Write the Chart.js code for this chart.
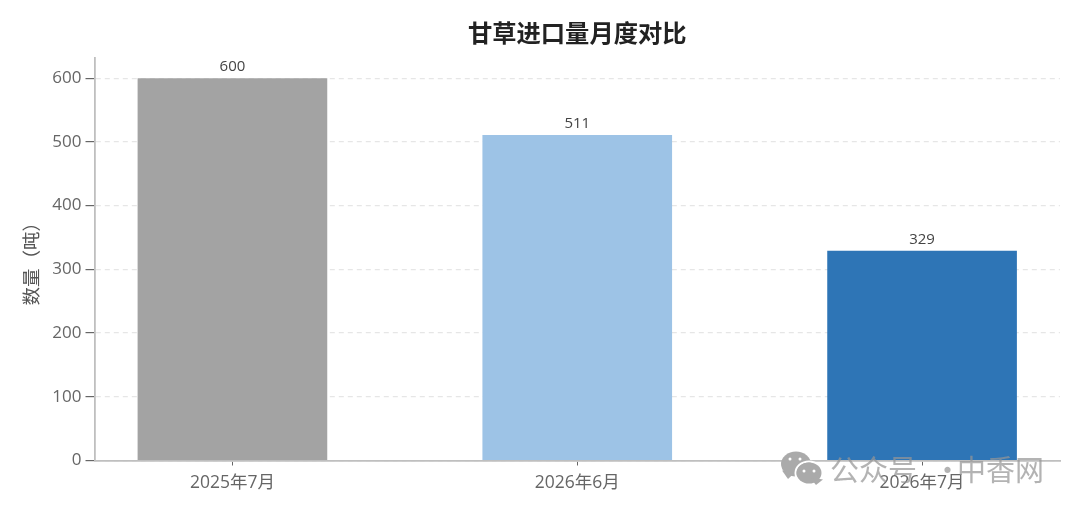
<!DOCTYPE html>
<html lang="zh">
<head>
<meta charset="utf-8">
<title>甘草进口量月度对比</title>
<script src="https://cdn.jsdelivr.net/npm/chart.js@4/dist/chart.umd.min.js"></script>
<style>
  html, body { margin: 0; background: #fff; }
  canvas { display: block; }
</style>
</head>
<body>
<canvas id="chart" width="1080" height="513"></canvas>
<script>
const months = ["2025年7月", "2026年6月", "2026年7月"];
const tons = [600, 511, 329];
const barColors = ["#a3a3a3", "#9dc3e6", "#2e75b6"];
const yTicks = [0, 100, 200, 300, 400, 500, 600];

const FONT = '"Open Sans", "Noto Sans CJK SC", sans-serif';

// value above each bar
const barLabels = {
  id: "barLabels",
  afterDatasetsDraw(chart) {
    const ctx = chart.ctx;
    ctx.save();
    ctx.font = "15px " + FONT;
    ctx.fillStyle = "#444";
    ctx.textAlign = "center";
    ctx.textBaseline = "bottom";
    chart.getDatasetMeta(0).data.forEach((bar, i) => {
      ctx.fillText(tons[i], bar.x, bar.y - 3.5);
    });
    ctx.restore();
  }
};

function bubble(ctx, x, y, rx, ry, tailX, tailY) {
  ctx.beginPath();
  ctx.ellipse(x, y, rx, ry, 0, 0, Math.PI * 2);
  ctx.fill();
  ctx.beginPath();
  ctx.moveTo(tailX - 6, y + ry - 6);
  ctx.lineTo(tailX, tailY);
  ctx.lineTo(tailX + 7, y + ry - 4);
  ctx.closePath();
  ctx.fill();
}

// wechat watermark sitting on the bottom right corner
const watermark = {
  id: "watermark",
  afterDraw(chart) {
    const ctx = chart.ctx;
    ctx.save();
    ctx.fillStyle = "rgb(170,170,170)";
    bubble(ctx, 796, 464, 15, 12.5, 788, 479);
    ctx.strokeStyle = "#fff";
    ctx.lineWidth = 2;
    ctx.beginPath();
    ctx.ellipse(809, 473, 13.5, 11.5, 0, 0, Math.PI * 2);
    ctx.stroke();
    ctx.fillStyle = "rgb(170,170,170)";
    bubble(ctx, 809, 473, 12.5, 10.5, 816, 485);
    ctx.fillStyle = "#fff";
    [[790, 459], [800, 459], [804, 471], [814, 471]].forEach(p => {
      ctx.beginPath();
      ctx.arc(p[0], p[1], 1.5, 0, Math.PI * 2);
      ctx.fill();
    });
    ctx.font = '29px "Noto Sans CJK SC", sans-serif';
    ctx.fillStyle = "rgba(150,150,150,0.72)";
    ctx.textBaseline = "middle";
    ctx.fillText("公众号", 830, 470);
    ctx.fillText("·", 933, 470);
    ctx.fillText("中香网", 957, 470);
    ctx.restore();
  }
};

new Chart(document.getElementById("chart"), {
  type: "bar",
  data: {
    datasets: [{
      data: tons.map((v, i) => ({ x: i, y: v })),
      backgroundColor: barColors,
      barPercentage: 0.55,
      categoryPercentage: 1
    }]
  },
  plugins: [barLabels, watermark],
  options: {
    responsive: false,
    animation: false,
    layout: { padding: { left: 22, right: 20, top: 0, bottom: 0 } },
    plugins: {
      legend: { display: false },
      tooltip: { enabled: false },
      title: {
        display: true,
        fullSize: false,
        text: "甘草进口量月度对比",
        color: "#222",
        font: { family: FONT, size: 24.3, weight: "bold" },
        padding: { top: 20, bottom: 9 }
      }
    },
    scales: {
      x: {
        type: "linear",
        offset: false,
        min: -0.4,
        max: 2.4,
        afterBuildTicks(axis) {
          axis.ticks = months.map((m, i) => ({ value: i }));
        },
        afterFit(axis) { axis.height = 52.5; },
        grid: { offset: false, drawOnChartArea: false, tickColor: "#666", tickLength: 5 },
        border: { color: "#bfbfbf", width: 1.8 },
        ticks: {
          color: "#666",
          padding: 7,
          maxRotation: 0,
          font: { family: FONT, size: 17.5 },
          callback: v => months[v]
        }
      },
      y: {
        min: 0,
        max: 631.4,
        afterBuildTicks(axis) {
          axis.ticks = yTicks.map(v => ({ value: v }));
        },
        afterFit(axis) { axis.width = 72.5; },
        grid: {
          color: "#e6e6e6",
          lineWidth: 1.2,
          tickColor: "#666",
          tickLength: 9,
          tickBorderDash: [],
          tickWidth: 1.2
        },
        border: { color: "#bfbfbf", width: 1.8, dash: [5, 4] },
        ticks: {
          color: "#666",
          padding: 4,
          font: { family: FONT, size: 17 }
        },
        title: {
          display: true,
          text: "数量（吨）",
          color: "#555",
          padding: { top: 0, bottom: 4 },
          font: { family: FONT, size: 18.5 }
        }
      }
    }
  }
});
</script>
</body>
</html>
